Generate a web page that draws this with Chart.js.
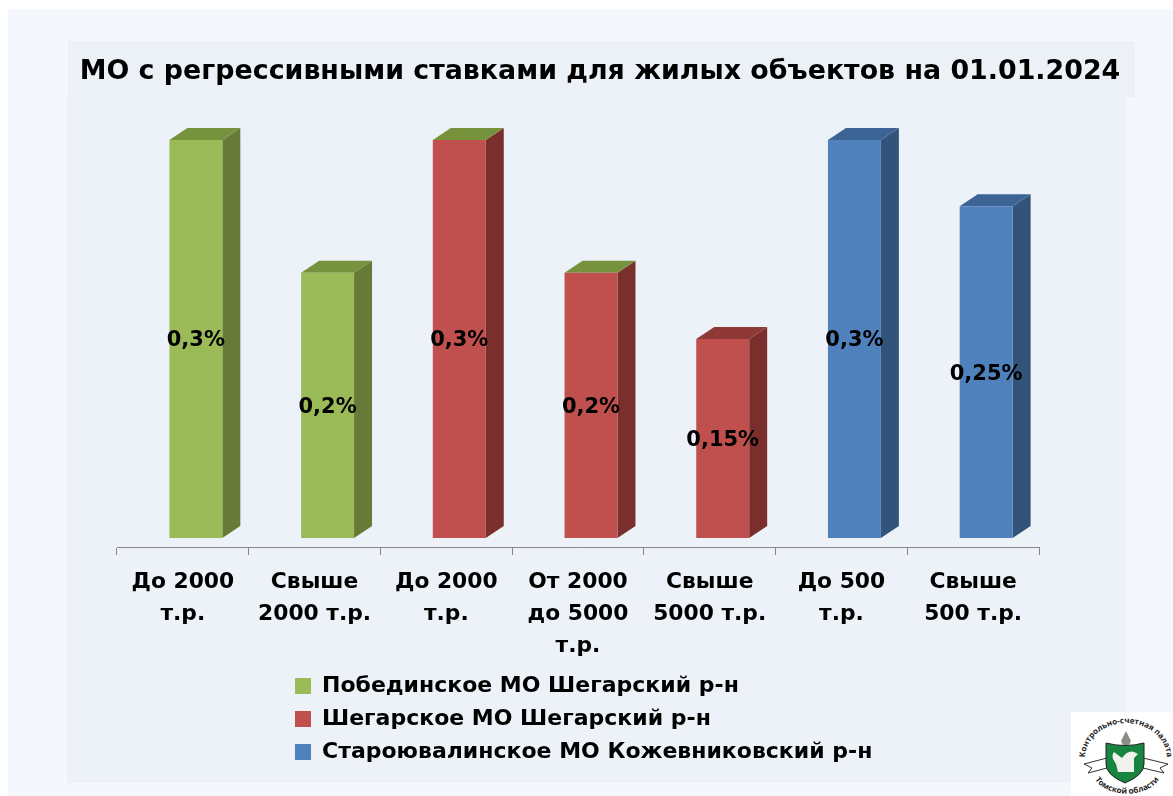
<!DOCTYPE html>
<html lang="ru">
<head>
<meta charset="utf-8">
<title>МО с регрессивными ставками</title>
<style>
html,body{margin:0;padding:0;background:#fff;overflow:hidden}
#stage{position:relative;width:1173px;height:796px}
.p{position:absolute}
#outer{left:8px;top:9px;width:1165px;height:787px;background:#f4f7fc}
#inner{left:67px;top:97px;width:1059px;height:686px;background:#edf2f9}
#head{left:68px;top:41px;width:1067px;height:56px;background:#ecf1f8}
canvas{position:absolute;left:0;top:0}
#logo{left:1071px;top:712px;width:102px;height:84px;background:#fff}
</style>
<script src="https://cdn.jsdelivr.net/npm/chart.js@4"></script>
</head>
<body>
<div id="stage">
  <div class="p" id="outer"></div>
  <div class="p" id="head"></div>
  <div class="p" id="inner"></div>
  <canvas id="c" width="1173" height="796"></canvas>
  <div class="p" id="logo">
    <svg width="102" height="84" viewBox="0 0 102 84">
      <defs>
        <path id="arcTop" d="M14 46 A40 34 0 0 1 96 46"/>
        <path id="arcBot" d="M22 60 A33 21 0 0 0 90 60"/>
      </defs>
      <text font-family="Open Sans" font-weight="700" font-size="8" fill="#222"><textPath href="#arcTop" startOffset="50%" text-anchor="middle">Контрольно-счетная палата</textPath></text>
      <text font-family="Open Sans" font-weight="700" font-size="8" fill="#222"><textPath href="#arcBot" startOffset="50%" text-anchor="middle">Томской области</textPath></text>
      <path d="M13 52 L36 46 L36 56 L17 61 L21 56Z" fill="#fff" stroke="#333" stroke-width="1"/>
      <path d="M97 52 L72 46 L72 56 L93 61 L89 56Z" fill="#fff" stroke="#333" stroke-width="1"/>
      <path d="M35 31 Q54 36 73 31 L73 52 Q73 63 54 71 Q35 63 35 52Z" fill="#17843f" stroke="#222" stroke-width="1"/>
      <path d="M45 52 Q39 44 43 40 L51 46 Q57 38 63 40 L67 42 L63 46 L63 60 L47 60Z" fill="#f1f1ee"/>
      <path d="M50 29 L55 19 L60 29 L58 33 L52 33Z" fill="#8d8d86"/>
    </svg>
  </div>
</div>
<script>
const titleText = 'МО с регрессивными ставками для жилых объектов на 01.01.2024';
const categories = [
  ['До 2000', 'т.р.'],
  ['Свыше', '2000 т.р.'],
  ['До 2000', 'т.р.'],
  ['От 2000', 'до 5000', 'т.р.'],
  ['Свыше', '5000 т.р.'],
  ['До 500', 'т.р.'],
  ['Свыше', '500 т.р.']
];
const seriesNames = [
  'Побединское МО Шегарский р-н',
  'Шегарское МО Шегарский р-н',
  'Староювалинское МО Кожевниковский р-н'
];
const pobedinskoe = [0.3, 0.2, null, null, null, null, null];
const shegarskoe = [null, null, 0.3, 0.2, 0.15, null, null];
const staroyuvalinskoe = [null, null, null, null, null, 0.3, 0.25];

const frontColors = ['#9bbb59', '#c0504d', '#4f81bd'];
const sideColors = ['#677a38', '#7b2f2d', '#33537b'];
const topColors = [
  ['#76923c', '#76923c'],
  ['#76923c', '#76923c', '#8f3936'],
  ['#3c6494', '#3c6494']
];

const font = 'DejaVu Sans';
const pxPerUnit = 398 / 0.3;
const DEPTH_X = 18, DEPTH_Y = 12, SHIFT_X = 13, FLOOR = 9, LABEL_DY = 2;

const bars3d = {
  id: 'bars3d',
  beforeDatasetsDraw(chart) {
    const ctx = chart.ctx;
    ctx.save();
    ctx.translate(SHIFT_X, 0);
    chart.data.datasets.forEach((ds, i) => {
      let n = 0;
      chart.getDatasetMeta(i).data.forEach((el, j) => {
        if (ds.data[j] == null) return;
        const l = el.x - el.width / 2, r = el.x + el.width / 2, t = el.y, b = el.base;
        ctx.fillStyle = sideColors[i];
        ctx.beginPath();
        ctx.moveTo(r, t); ctx.lineTo(r + DEPTH_X, t - DEPTH_Y);
        ctx.lineTo(r + DEPTH_X, b - DEPTH_Y); ctx.lineTo(r, b);
        ctx.closePath(); ctx.fill();
        ctx.fillStyle = topColors[i][n];
        ctx.beginPath();
        ctx.moveTo(l, t); ctx.lineTo(l + DEPTH_X, t - DEPTH_Y);
        ctx.lineTo(r + DEPTH_X, t - DEPTH_Y); ctx.lineTo(r, t);
        ctx.closePath(); ctx.fill();
        n++;
      });
    });
  },
  afterDatasetsDraw(chart) {
    const ctx = chart.ctx;
    ctx.fillStyle = '#000';
    ctx.font = 'bold 21px "' + font + '"';
    ctx.textAlign = 'center';
    ctx.textBaseline = 'middle';
    chart.data.datasets.forEach((ds, i) => {
      chart.getDatasetMeta(i).data.forEach((el, j) => {
        if (ds.data[j] == null) return;
        const txt = String(ds.data[j]).replace('.', ',') + '%';
        ctx.fillText(txt, el.x, (el.y + el.base) / 2 + LABEL_DY);
      });
    });
    ctx.restore();
  }
};

const legendPlace = {
  id: 'legendPlace',
  afterLayout(chart) {
    const lg = chart.legend;
    const w = lg.width, h = lg.height;
    lg.left = 284; lg.top = 664; lg.right = lg.left + w; lg.bottom = lg.top + h;
    const tb = chart.titleBlock;
    tb.left = 40; tb.right = 1160; tb.width = 1120;
  }
};

new Chart(document.getElementById('c'), {
  type: 'bar',
  data: {
    labels: categories,
    datasets: [pobedinskoe, shegarskoe, staroyuvalinskoe].map((d, i) => ({
      label: seriesNames[i],
      data: d,
      backgroundColor: frontColors[i],
      borderWidth: 0,
      grouped: false,
      barPercentage: 0.402,
      categoryPercentage: 1,
      clip: false
    }))
  },
  options: {
    responsive: false,
    animation: false,
    layout: { padding: { left: 117, right: 134, top: 0, bottom: 0 } },
    scales: {
      x: {
        grid: { offset: true, drawOnChartArea: false, drawTicks: true, tickLength: 8, color: '#868686', lineWidth: 1 },
        border: { color: '#868686', width: 1 },
        ticks: {
          color: '#000', maxRotation: 0, autoSkip: false, padding: 11,
          font: { family: font, size: 21.8, weight: 'bold', lineHeight: 32 / 21.8 }
        },
        afterFit(scale) { scale.height = 249; }
      },
      y: {
        display: false,
        min: -FLOOR / pxPerUnit,
        max: 0.3 + DEPTH_Y / pxPerUnit
      }
    },
    plugins: {
      title: {
        display: true,
        text: titleText,
        color: '#000',
        font: { family: font, size: 26.85, weight: 'bold', lineHeight: 36 / 26.85 },
        padding: { top: 54, bottom: 38 }
      },
      legend: {
        display: true,
        position: 'chartArea',
        align: 'start',
        labels: {
          color: '#000',
          boxWidth: 16,
          boxHeight: 16,
          padding: 11,
          font: { family: font, size: 22, weight: 'bold' }
        }
      },
      tooltip: { enabled: false }
    }
  },
  plugins: [bars3d, legendPlace]
});
</script>
</body>
</html>
